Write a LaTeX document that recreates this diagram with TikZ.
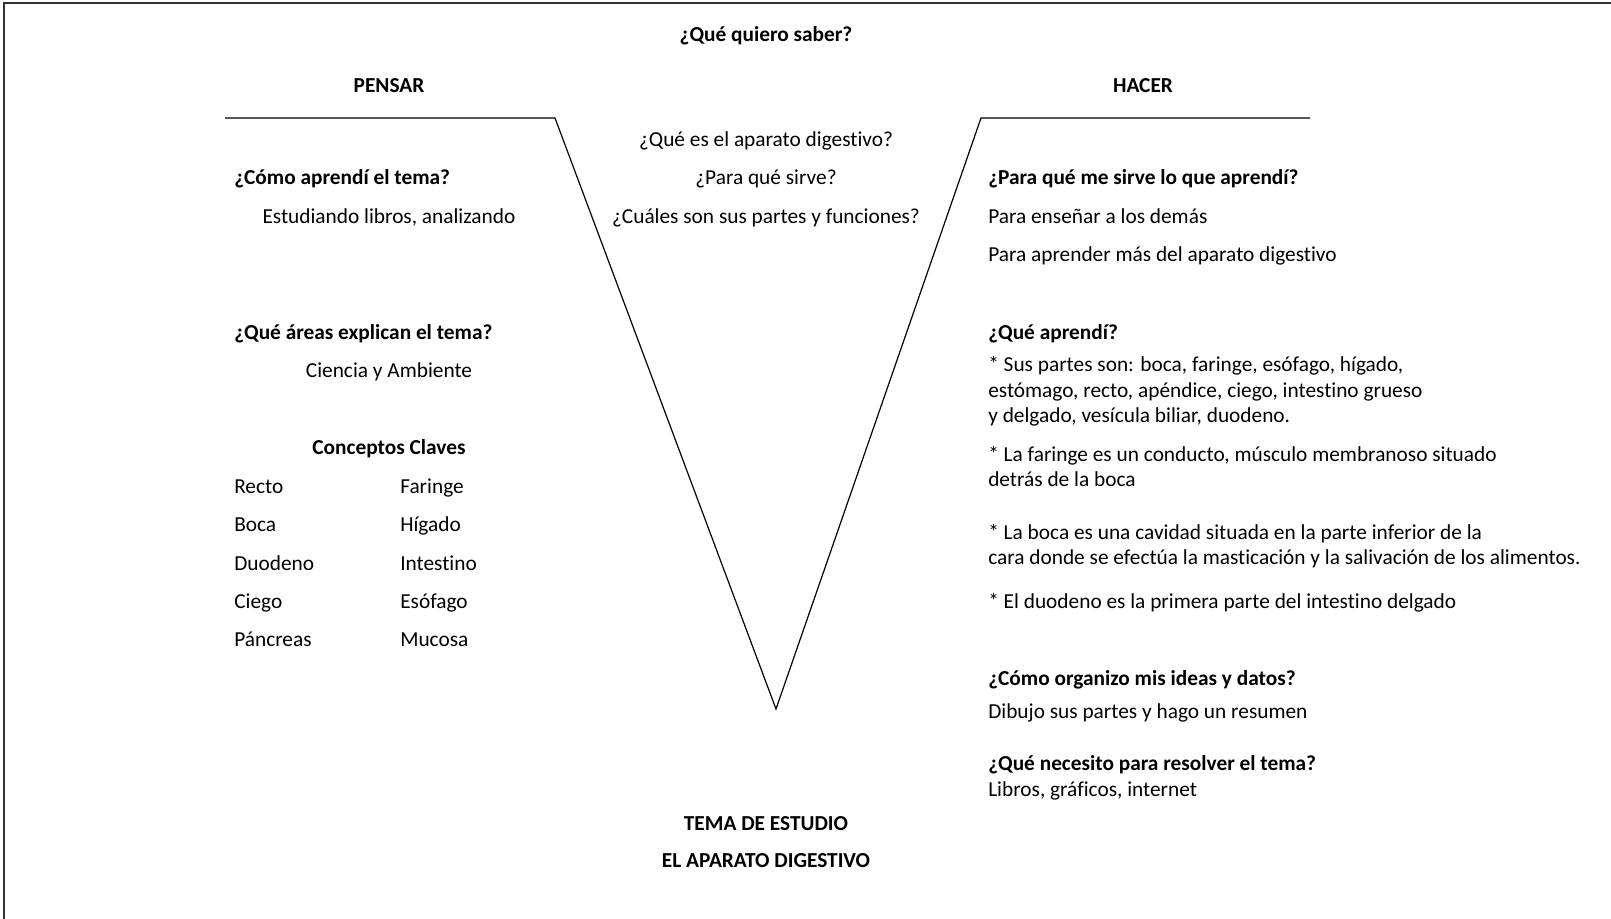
\documentclass[tikz,border=0pt]{standalone}
\usepackage{fontspec}
\setmainfont{Carlito}[Ligatures=NoCommon]
\usetikzlibrary{positioning}

\begin{document}
\begin{tikzpicture}[
        x=0.75pt, y=-0.75pt,
        txt/.style={inner sep=0pt, anchor=base west,
                    font=\fontsize{16}{19.5}\selectfont},
        ctr/.style={txt, anchor=base},
        qst/.style={txt, font=\fontsize{16}{19.5}\selectfont\bfseries},
        hdr/.style={qst, anchor=base},
        vline/.style={line width=0.9pt},
        frame/.style={line width=2pt, black!80},
    ]
    \useasboundingbox (0,0) rectangle (1611,919);
    \draw[frame] (4,919) -- (4,3) -- (1611,3);

    % the V
    \coordinate (pl) at (225,118);
    \coordinate (vl) at (555,118);
    \coordinate (vb) at (776,709);
    \coordinate (vr) at (981,118);
    \coordinate (pr) at (1310,118);
    \draw[vline] (pl) -- (vl) -- (vb) -- (vr) -- (pr);

    % top and centre
    \node[hdr] (saber)  at (766,42)  {¿Qué quiero saber?};
    \node[hdr] (pensar) at (389,93)  {PENSAR};
    \node[hdr] (hacer)  at (1143,93) {HACER};
    \node[ctr] (q1) at (766,147) {¿Qué es el aparato digestivo?};
    \node[ctr] (q2) at (766,185) {¿Para qué sirve?};
    \node[ctr] (q3) at (766,224) {¿Cuáles son sus partes y funciones?};
    \node[hdr] (tema)    at (766,830) {TEMA DE ESTUDIO};
    \node[hdr] (aparato) at (766,867) {EL APARATO DIGESTIVO};

    % PENSAR side
    \node[qst] (como)  at (234,185) {¿Cómo aprendí el tema?};
    \node[ctr] (estud) at (389,224) {Estudiando libros, analizando};
    \node[qst] (areas) at (234,340) {¿Qué áreas explican el tema?};
    \node[ctr] (cien)  at (389,378) {Ciencia y Ambiente};
    \node[hdr] (conc)  at (389,455) {Conceptos Claves};
    \node[txt] (c1) at (234,494) {Recto};
    \node[txt] (c2) at (234,532) {Boca};
    \node[txt] (c3) at (234,571) {Duodeno};
    \node[txt] (c4) at (234,609) {Ciego};
    \node[txt] (c5) at (234,647) {Páncreas};
    \node[txt] (d1) at (400,494) {Faringe};
    \node[txt] (d2) at (400,532) {Hígado};
    \node[txt] (d3) at (400,571) {Intestino};
    \node[txt] (d4) at (400,609) {Esófago};
    \node[txt] (d5) at (400,647) {Mucosa};

    % HACER side
    \node[qst] (sirve) at (988,185) {¿Para qué me sirve lo que aprendí?};
    \node[txt] (s1)    at (988,224) {Para enseñar a los demás};
    \node[txt] (s2)    at (988,262) {Para aprender más del aparato digestivo};
    \node[qst] (aprendi) at (988,340) {¿Qué aprendí?};
    \node[txt] (a1) at (988,372) {* Sus partes son: boca, faringe, esófago, hígado,};
    \node[txt] (a2) at (988,398) {estómago, recto, apéndice, ciego, intestino grueso};
    \node[txt] (a3) at (988,423) {y delgado, vesícula biliar, duodeno.};
    \node[txt] (a4) at (988,462) {* La faringe es un conducto, músculo membranoso situado};
    \node[txt] (a5) at (988,487) {detrás de la boca};
    \node[txt] (a6) at (988,540) {* La boca es una cavidad situada en la parte inferior de la};
    \node[txt] (a7) at (988,565) {cara donde se efectúa la masticación y la salivación de los alimentos.};
    \node[txt] (a8) at (988,609) {* El duodeno es la primera parte del intestino delgado};
    \node[qst] (organizo) at (988,686) {¿Cómo organizo mis ideas y datos?};
    \node[txt] (o1)       at (988,718) {Dibujo sus partes y hago un resumen};
    \node[qst] (necesito) at (988,770) {¿Qué necesito para resolver el tema?};
    \node[txt] (n1)       at (988,796) {Libros, gráficos, internet};
\end{tikzpicture}
\end{document}
